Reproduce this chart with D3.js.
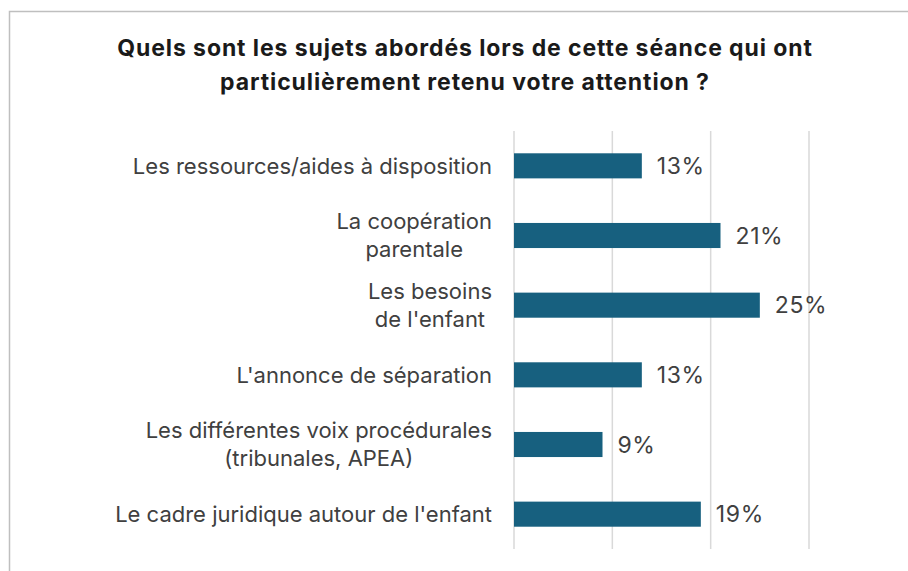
<!DOCTYPE html>
<html>
<head>
<meta charset="utf-8">
<title>Sujets abordés</title>
<script src="https://cdn.jsdelivr.net/npm/d3@7"></script>
<style>
  body { margin: 0; background: #fff; }
  text { font-family: Inter, "Liberation Sans", sans-serif; }
</style>
</head>
<body>
<div id="chart"></div>
<script>
// data
const categories = [
  "Les ressources/aides à disposition",
  "La coopération\nparentale",
  "Les besoins\nde l'enfant",
  "L'annonce de séparation",
  "Les différentes voix procédurales\n(tribunales, APEA)",
  "Le cadre juridique autour de l'enfant"
];
const values = [13, 21, 25, 13, 9, 19];
const xTicks = [0, 10, 20, 30];
const titleLines = [
  "Quels sont les sujets abordés lors de cette séance qui ont",
  "particulièrement retenu votre attention ?"
];

const W = 908, H = 571;
const plot = { left: 514, right: 809, top: 131, bottom: 549 };

const svg = d3.select('#chart').append('svg')
  .attr('width', W).attr('height', H);

// outer frame (only top and left edges visible)
svg.append('path')
  .attr('d', `M9.5,${H} V11.5 H${W}`)
  .attr('fill', 'none')
  .attr('stroke', '#bfbfbf')
  .attr('stroke-width', 1.5);

// title
svg.append('text')
  .attr('text-anchor', 'middle')
  .attr('font-weight', 700)
  .attr('font-size', 23)
  .attr('letter-spacing', 0.9)
  .attr('fill', '#1a1a1a')
  .selectAll('tspan')
  .data(titleLines)
  .enter().append('tspan')
  .attr('x', 465)
  .attr('y', (d, i) => 56 + i * 34)
  .text(d => d);

const x = d3.scaleLinear().domain([0, 30]).range([plot.left, plot.right]);
const y = d3.scaleBand().domain(categories)
  .range([plot.top, plot.bottom]).paddingInner(0.64).paddingOuter(0.32);

// gridlines
svg.append('g').selectAll('line')
  .data(xTicks)
  .enter().append('line')
  .attr('x1', d => x(d)).attr('x2', d => x(d))
  .attr('y1', plot.top).attr('y2', plot.bottom)
  .attr('stroke', '#d9d9d9')
  .attr('stroke-width', 1.5);

// bars
svg.append('g').selectAll('rect')
  .data(values)
  .enter().append('rect')
  .attr('x', x(0))
  .attr('y', (d, i) => y(categories[i]))
  .attr('width', d => x(d) - x(0))
  .attr('height', y.bandwidth())
  .attr('fill', '#17607f');

// value labels
svg.append('g').selectAll('text')
  .data(values)
  .enter().append('text')
  .attr('x', d => x(d) + 15)
  .attr('y', (d, i) => y(categories[i]) + y.bandwidth() / 2)
  .attr('dy', '0.36em')
  .attr('font-size', 23)
  .attr('letter-spacing', 0.6)
  .attr('fill', '#404040')
  .text(d => d + '%');

// category labels: lines centred on each other, block right-aligned
const lineH = 28;
const labelRight = 492;
categories.forEach((c, i) => {
  const lines = c.split('\n');
  const cy = y(c) + y.bandwidth() / 2;
  const t = svg.append('text')
    .attr('font-size', 22)
    .attr('fill', '#404040')
    .attr('text-anchor', 'middle');
  const spans = lines.map((l, j) => t.append('tspan')
    .attr('y', cy + (j - (lines.length - 1) / 2) * lineH)
    .attr('dy', '0.36em')
    .text(l));
  const wMax = d3.max(spans, s => s.node().getComputedTextLength());
  spans.forEach(s => s.attr('x', labelRight - wMax / 2));
});
</script>
</body>
</html>
